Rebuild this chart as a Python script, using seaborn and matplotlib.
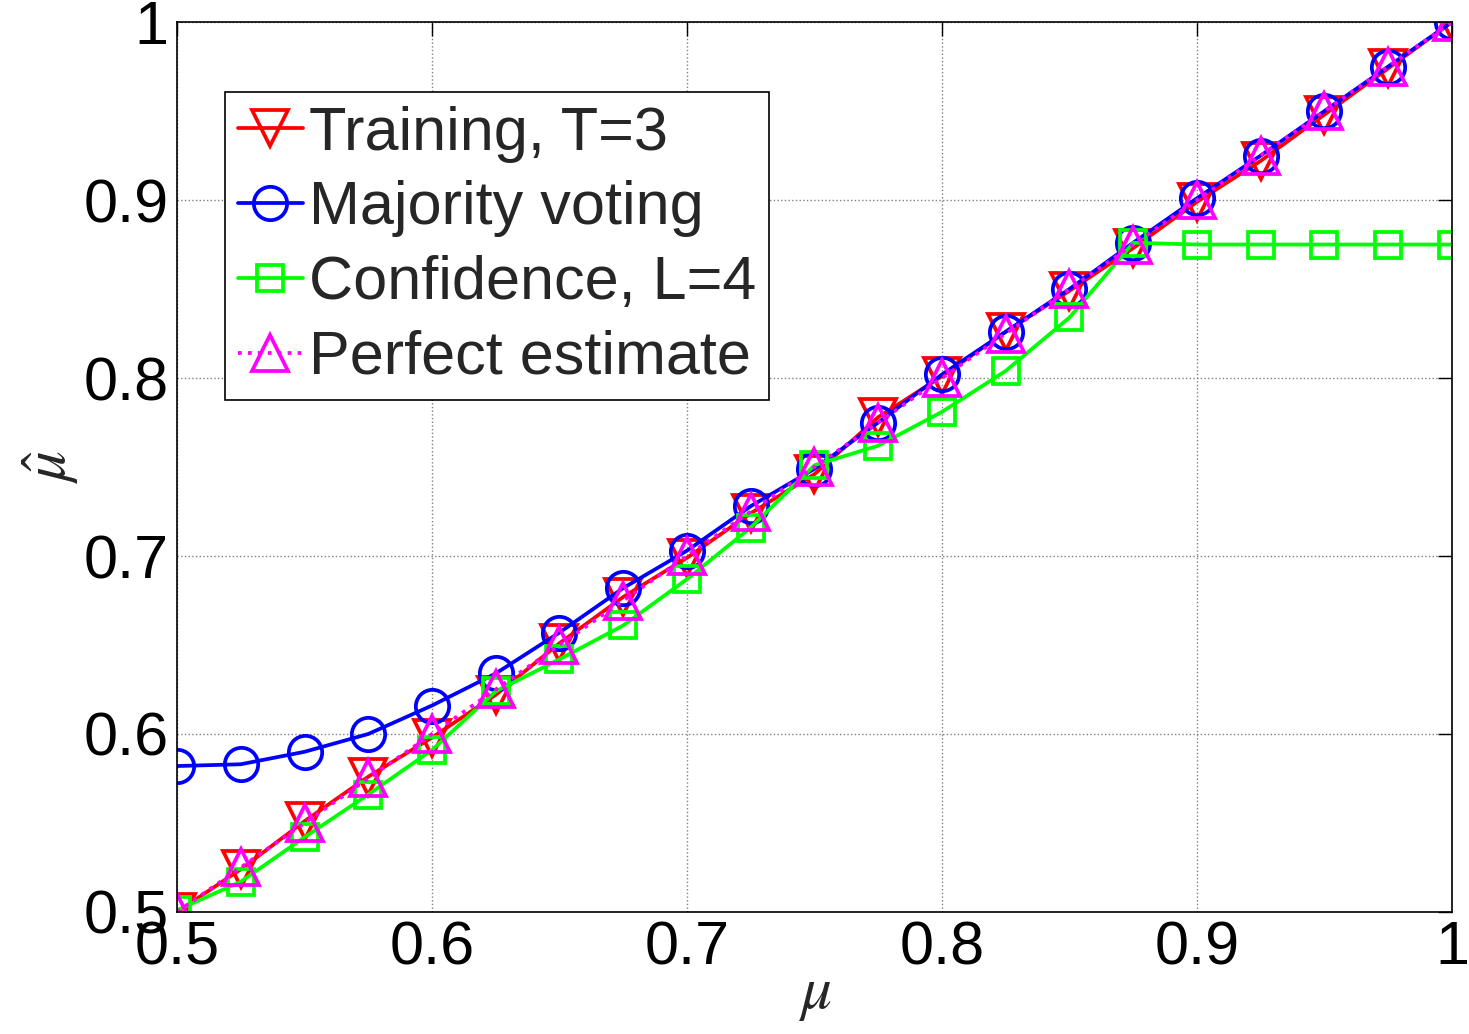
import numpy as np
import pandas as pd
import matplotlib
matplotlib.use("Agg")
import matplotlib.pyplot as plt
import seaborn as sns

mu = [0.5, 0.525, 0.55, 0.575, 0.6, 0.625, 0.65, 0.675, 0.7, 0.725, 0.75,
      0.775, 0.8, 0.825, 0.85, 0.875, 0.9, 0.925, 0.95, 0.975, 1.0]
training = [0.500, 0.524, 0.551, 0.576, 0.598, 0.622, 0.651, 0.677, 0.699, 0.724, 0.746,
            0.778, 0.801, 0.826, 0.849, 0.873, 0.899, 0.922, 0.948, 0.974, 1.000]
majority = [0.582, 0.583, 0.590, 0.600, 0.616, 0.634, 0.657, 0.682, 0.703, 0.728, 0.749,
            0.775, 0.802, 0.826, 0.850, 0.876, 0.901, 0.925, 0.950, 0.975, 1.000]
confidence = [0.501, 0.517, 0.542, 0.566, 0.591, 0.624, 0.642, 0.661, 0.687, 0.716, 0.751,
              0.762, 0.781, 0.804, 0.834, 0.876, 0.875, 0.875, 0.875, 0.875, 0.875]
perfect = mu
labels = ["Training, T=3", "Majority voting", "Confidence, L=4", "Perfect estimate"]
xticks = [0.5, 0.6, 0.7, 0.8, 0.9, 1.0]
xtick_labels = ["0.5", "0.6", "0.7", "0.8", "0.9", "1"]
yticks = [0.5, 0.6, 0.7, 0.8, 0.9, 1.0]
ytick_labels = ["0.5", "0.6", "0.7", "0.8", "0.9", "1"]

sns.set_style("white")
plt.rcParams['font.family'] = ['Liberation Sans', 'DejaVu Sans']
plt.rcParams['mathtext.fontset'] = 'stix'

fig = plt.figure(figsize=(14.69, 10.34), dpi=100)
ax = fig.add_axes([0.1205, 0.118, 0.8679, 0.8607])

LW = 2.7
MEW = 2.7
sns.lineplot(x=mu, y=training, ax=ax, color='#ff0000', marker='v', linewidth=LW,
             markersize=26, markeredgewidth=MEW, markerfacecolor='none',
             markeredgecolor='#ff0000', label=labels[0])
sns.lineplot(x=mu, y=majority, ax=ax, color='#0000ff', marker='o', linewidth=LW,
             markersize=24, markeredgewidth=MEW, markerfacecolor='none',
             markeredgecolor='#0000ff', label=labels[1])
sns.lineplot(x=mu, y=confidence, ax=ax, color='#00ff00', marker='s', linewidth=LW,
             markersize=19, markeredgewidth=MEW, markerfacecolor='none',
             markeredgecolor='#00ff00', label=labels[2])
sns.lineplot(x=mu, y=perfect, ax=ax, color='#ff00ff', marker='^', linewidth=LW,
             markersize=26, markeredgewidth=MEW, markerfacecolor='none',
             markeredgecolor='#ff00ff', label=labels[3], linestyle=':')

ax.set_xlim(0.5, 1.0)
ax.set_ylim(0.5, 1.0)
ax.set_xticks(xticks)
ax.set_xticklabels(xtick_labels)
ax.set_yticks(yticks)
ax.set_yticklabels(ytick_labels)
ax.tick_params(axis='both', which='both', direction='in', length=10, width=1,
               top=True, right=True, labelsize=44, pad=6, colors='black')
ax.grid(True, linestyle=':', color='#808080', linewidth=1.0)
for s in ax.spines.values():
    s.set_visible(True)
    s.set_color('black')
    s.set_linewidth(1.2)

ax.set_xlabel(r'$\mu$', fontsize=44, labelpad=-8)
ax.set_ylabel(r'$\hat{\mu}$', fontsize=44, labelpad=2)

leg = ax.legend(loc='upper left', bbox_to_anchor=(0.0376, 0.921), borderaxespad=0,
                fontsize=44, handlelength=1.05, handletextpad=0.1, labelspacing=0.29,
                borderpad=0.22, frameon=True, fancybox=False, framealpha=1)
leg.get_frame().set_edgecolor('black')
leg.get_frame().set_linewidth(1.2)

fig.savefig("out.png", dpi=100)
